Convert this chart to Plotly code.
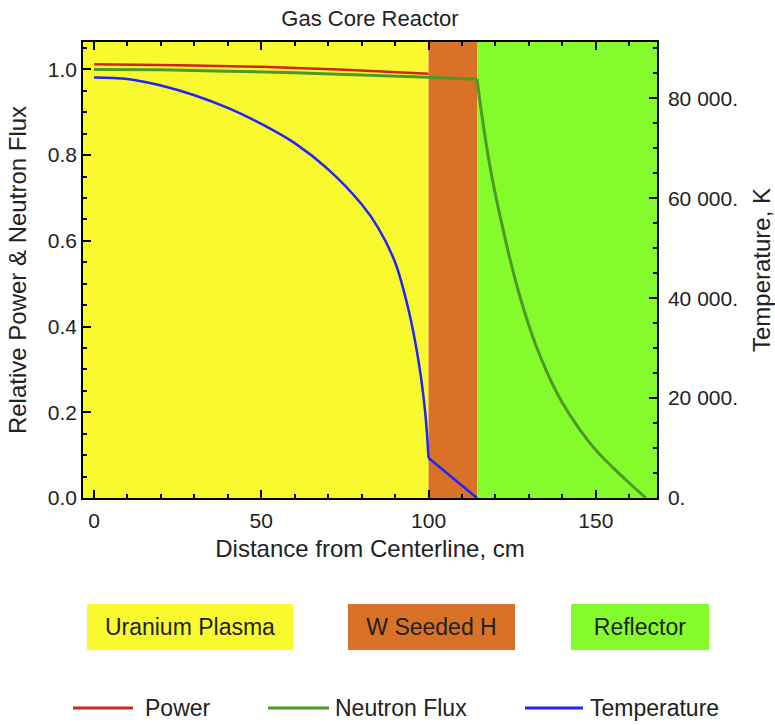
import plotly.graph_objects as go

# ---------------- data ----------------
# temperature (K): smooth core part, then linear drop through the W-seeded H layer
temp_core_x = [0, 10, 20, 30, 40, 50, 60, 70, 80, 85, 90, 94, 97, 99, 100]
temp_core_K = [84200, 83900, 82600, 80650, 78100, 74900, 71050, 65800, 58800, 54050,
               47200, 37750, 27450, 17150, 8000]
temp_layer_x = [100, 114.5]
temp_layer_K = [8000, 0]

power_x = [0, 25, 50, 75, 100]
power_v = [1.012, 1.010, 1.006, 0.999, 0.990]

flux_core_x = [0, 20, 40, 60, 80, 100, 114.5]
flux_core_v = [1.0, 0.999, 0.996, 0.992, 0.987, 0.982, 0.977]
flux_refl_x = [114.5, 116, 118, 120, 122, 125, 128, 132, 136, 140, 145, 150, 155, 160, 165]
flux_refl_v = [0.977, 0.890, 0.790, 0.708, 0.636, 0.537, 0.452, 0.358, 0.283, 0.222,
               0.162, 0.112, 0.072, 0.035, 0.0]

region_names = ["Uranium Plasma", "W Seeded H", "Reflector"]
region_start = [-3.3, 100, 114.5]
region_end = [100, 114.5, 168.3]
region_colors = ["#F9FA2E", "#D97126", "#84FC2C"]

series_names = ["Power", "Neutron Flux", "Temperature"]
series_colors = ["#D42222", "#4C9A24", "#2222FF"]

x_ticks = [0, 50, 100, 150]
y_ticks = [0, 0.2, 0.4, 0.6, 0.8, 1.0]
t_ticks = [0, 20000, 40000, 60000, 80000]
t_labels = ["0.", "20 000.", "40 000.", "60 000.", "80 000."]

# ---------------- layout geometry ----------------
W, H = 775, 725
L, R, T, B = 83, 118, 42, 227
PW, PH = W - L - R, H - T - B


def px(xp):
    return (xp - L) / PW


def py(yp):
    return (H - B - yp) / PH


FONT = "Liberation Sans, Arial, sans-serif"
TXT = "#222222"

fig = go.Figure()

fig.add_trace(go.Scatter(x=power_x, y=power_v, mode="lines", name=series_names[0],
                         line=dict(color=series_colors[0], width=2.5, shape="spline")))
fig.add_trace(go.Scatter(x=flux_core_x, y=flux_core_v, mode="lines", name=series_names[1],
                         line=dict(color=series_colors[1], width=3, shape="spline")))
fig.add_trace(go.Scatter(x=flux_refl_x, y=flux_refl_v, mode="lines", name=series_names[1],
                         line=dict(color=series_colors[1], width=3, shape="spline")))
fig.add_trace(go.Scatter(x=temp_core_x, y=temp_core_K, mode="lines", name=series_names[2],
                         line=dict(color=series_colors[2], width=2.5, shape="spline"),
                         yaxis="y2"))
fig.add_trace(go.Scatter(x=temp_layer_x, y=temp_layer_K, mode="lines", name=series_names[2],
                         line=dict(color=series_colors[2], width=2.5), yaxis="y2"))

shapes = []
for s, e, c in zip(region_start, region_end, region_colors):
    shapes.append(dict(type="rect", xref="x", yref="paper", x0=s, x1=e, y0=0, y1=1,
                       fillcolor=c, line=dict(width=0), layer="below"))

# line legend keys
legend_lines = [(73, 133, 143), (268, 329, 333), (525, 583, 588)]
annotations = []
for (x0, x1, xt), name, col in zip(legend_lines, series_names, series_colors):
    shapes.append(dict(type="line", xref="paper", yref="paper", x0=px(x0), x1=px(x1),
                       y0=py(708), y1=py(708), line=dict(color=col, width=3)))
    annotations.append(dict(xref="paper", yref="paper", x=px(xt), y=py(708),
                            xanchor="left", yanchor="middle", showarrow=False,
                            text=name, font=dict(family=FONT, size=23, color=TXT)))

# region legend boxes
box_geom = [(87, 293), (348, 515), (571, 709)]
for (b0, b1), name, col in zip(box_geom, region_names, region_colors):
    annotations.append(dict(xref="paper", yref="paper", x=px((b0 + b1) / 2), y=py(627),
                            xanchor="center", yanchor="middle", showarrow=False,
                            text=name, width=b1 - b0, height=46, bgcolor=col,
                            borderpad=0, borderwidth=0,
                            font=dict(family=FONT, size=23, color=TXT)))

axis_common = dict(showline=True, linecolor="black", linewidth=1.5, showgrid=False,
                   zeroline=False, ticks="inside", tickcolor="black", tickwidth=1.5,
                   automargin=False,
                   tickfont=dict(family=FONT, size=21, color=TXT))

fig.update_layout(
    width=W, height=H,
    margin=dict(l=L, r=R, t=T, b=B),
    paper_bgcolor="white", plot_bgcolor="white",
    title=dict(text="Gas Core Reactor", x=(L + PW / 2) / W, xref="container",
               xanchor="center", y=1 - 18 / H, yref="container", yanchor="middle",
               font=dict(family=FONT, size=22, color=TXT)),
    xaxis=dict(range=[-3.3, 168.3], tickvals=x_ticks, ticklen=8, mirror="ticks",
               ticklabelstandoff=3,
               minor=dict(dtick=10, tick0=0, ticks="inside", ticklen=4, tickcolor="black"),
               title=dict(text="Distance from Centerline, cm", standoff=9,
                          font=dict(family=FONT, size=24, color=TXT)),
               **axis_common),
    yaxis=dict(range=[0, 1.064], tickvals=y_ticks, tickformat=".1f", ticklen=8,
               minor=dict(dtick=0.05, tick0=0, ticks="inside", ticklen=4, tickcolor="black"),
               title=dict(text="Relative Power & Neutron Flux", standoff=14,
                          font=dict(family=FONT, size=24, color=TXT)),
               **axis_common),
    yaxis2=dict(range=[0, 91300], overlaying="y", side="right", tickvals=t_ticks,
                ticktext=t_labels, ticklen=8, ticklabelstandoff=5,
                minor=dict(dtick=5000, tick0=0, ticks="inside", ticklen=4, tickcolor="black"),
                title=dict(text="Temperature, K", standoff=16,
                           font=dict(family=FONT, size=24, color=TXT)),
                **axis_common),
    shapes=shapes,
    annotations=annotations,
    showlegend=False,
)

fig.write_html("out.html")
